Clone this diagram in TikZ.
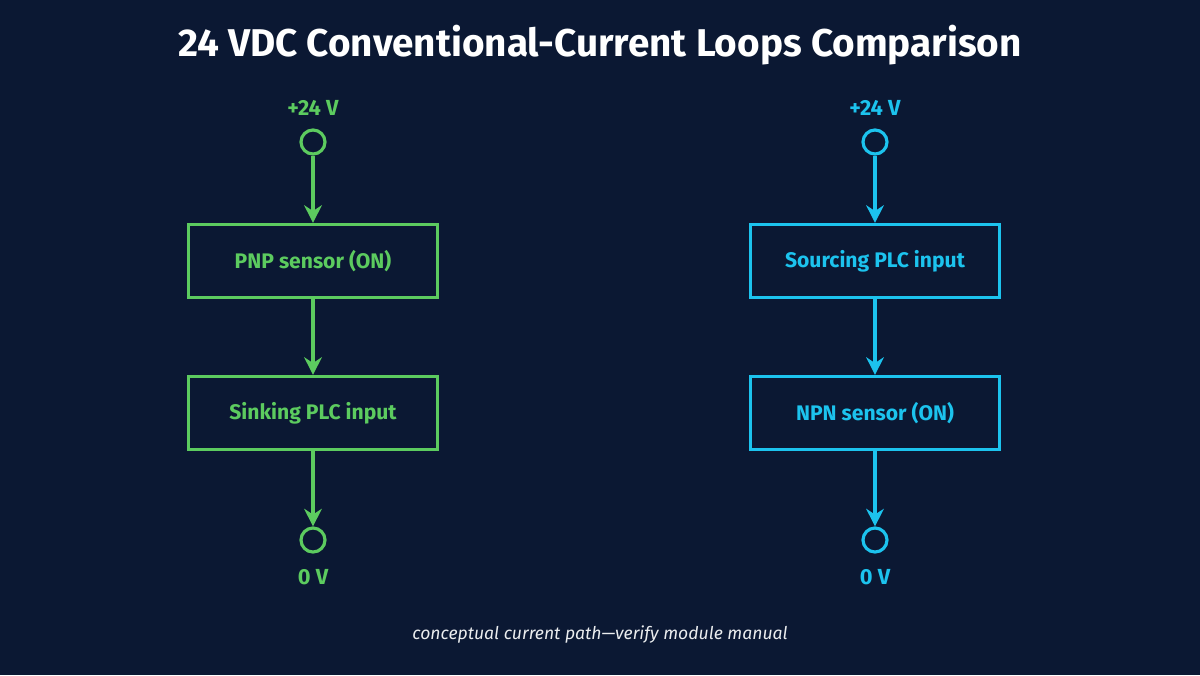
\documentclass[tikz,border=0pt]{standalone}
\usepackage{fontspec}
\setmainfont{Fira Sans}
\usetikzlibrary{arrows.meta}
\definecolor{bg}{HTML}{0B1833}
\definecolor{gr}{HTML}{5CCB5F}
\definecolor{bl}{HTML}{1CC3EE}
\begin{document}
\begin{tikzpicture}[x=0.01cm,y=-0.01cm,
  box/.style={draw=#1,line width=0.9pt,minimum width=2.49cm,minimum height=0.73cm,text=#1,font=\fontsize{6}{7}\selectfont\bfseries,inner sep=0pt},
  term/.style={draw=#1,circle,line width=0.9pt,minimum size=0.24cm,inner sep=0pt},
  lbl/.style={text=#1,font=\fontsize{6.2}{7}\selectfont\bfseries},
  conn/.style={draw=#1,line width=0.9pt,-{Stealth[length=5pt,width=5pt]}}]
\fill[bg] (0,0) rectangle (1200,675);
\node[text=white,font=\fontsize{11}{13}\selectfont\bfseries] (title) at (600,45) {24 VDC Conventional-Current Loops Comparison};
% left
\node[lbl=gr] (lt) at (313,108) {+24 V};
\node[term=gr] (lc1) at (313,142) {};
\node[box=gr] (lb1) at (313,261) {PNP sensor (ON)};
\node[box=gr] (lb2) at (313,413) {Sinking PLC input};
\node[term=gr] (lc2) at (313,540) {};
\node[lbl=gr] (lz) at (313,577) {0 V};
\draw[conn=gr] (lc1) -- (lb1);
\draw[conn=gr] (lb1) -- (lb2);
\draw[conn=gr] (lb2) -- (lc2);
% right
\node[lbl=bl] (rt) at (875,108) {+24 V};
\node[term=bl] (rc1) at (875,142) {};
\node[box=bl] (rb1) at (875,261) {Sourcing PLC input};
\node[box=bl] (rb2) at (875,413) {NPN sensor (ON)};
\node[term=bl] (rc2) at (875,540) {};
\node[lbl=bl] (rz) at (875,577) {0 V};
\draw[conn=bl] (rc1) -- (rb1);
\draw[conn=bl] (rb1) -- (rb2);
\draw[conn=bl] (rb2) -- (rc2);
\node[text=white!92!bg,font=\fontsize{5}{6}\selectfont\itshape] (foot) at (600,635) {conceptual current path---verify module manual};
\end{tikzpicture}
\end{document}
